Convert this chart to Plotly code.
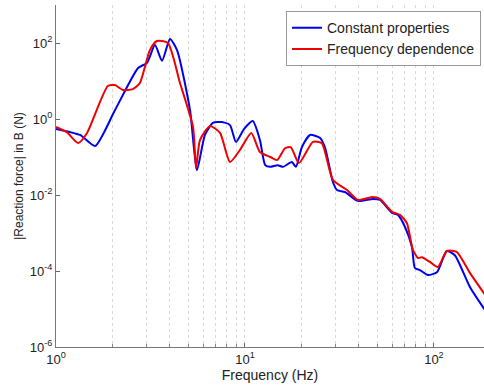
import plotly.graph_objects as go

# Reaction force at point B versus frequency, two material models
freq_const = [1.0, 1.34, 1.61, 2.05, 2.72, 3.03, 3.34, 3.64, 4.01, 4.37, 5.12, 5.57,
              6.14, 6.77, 7.55, 8.33, 8.96, 9.9, 11.0, 12.0, 12.8, 13.6, 14.9, 15.9,
              17.7, 18.6, 20.0, 22.1, 24.9, 26.5, 29.2, 30.7, 33.8, 39.6, 47.6, 51.8,
              60.0, 64.5, 70.3, 76.5, 79.3, 84.3, 93.0, 104, 117, 129, 155, 186]
force_const = [0.55, 0.38, 0.195, 1.7, 22, 30, 88, 34, 127, 65, 1.7, 0.045,
               0.38, 0.79, 0.83, 0.69, 0.25, 0.55, 0.885, 0.28, 0.061, 0.055, 0.061, 0.055,
               0.074, 0.055, 0.18, 0.38, 0.32, 0.18, 0.022, 0.0135, 0.012, 0.0070, 0.0079, 0.0074,
               0.0034, 0.0030, 0.00144, 4.3e-4, 1.2e-4, 1.06e-4, 7.85e-5, 9.4e-5, 3.36e-4, 2.6e-4, 3.8e-5, 9.5e-6]

freq_dep = [1.0, 1.14, 1.31, 1.46, 1.88, 2.05, 2.26, 2.55, 2.78, 3.14, 3.42, 3.91,
            4.53, 5.31, 5.51, 5.78, 6.53, 7.38, 8.33, 9.41, 10.8, 12.0, 13.6, 14.8,
            16.3, 17.5, 19.3, 22.9, 25.5, 29.2, 34.7, 39.6, 47.6, 51.8, 60.0, 66.1,
            71.9, 77.4, 82.3, 86.4, 95.2, 105, 117, 132, 155, 186]
force_dep = [0.62, 0.45, 0.233, 0.43, 7.4, 7.8, 5.8, 6.1, 8.9, 65, 113, 100,
             8.9, 0.62, 0.051, 0.28, 0.65, 0.43, 0.074, 0.153, 0.43, 0.135, 0.1, 0.083,
             0.17, 0.18, 0.069, 0.25, 0.23, 0.025, 0.0135, 0.0074, 0.0089, 0.0079, 0.0036, 0.0030,
             0.00183, 3.6e-4, 2.2e-4, 2.3e-4, 1.73e-4, 1.27e-4, 3.36e-4, 3.2e-4, 8.9e-5, 2.4e-5]

x_ticks = [1, 10, 100]
x_ticktext = ["10<sup>0</sup>", "10<sup>1</sup>", "10<sup>2</sup>"]
x_minor = [2, 3, 4, 5, 6, 7, 8, 9, 20, 30, 40, 50, 60, 70, 80, 90]
y_ticks = [1e-6, 1e-4, 1e-2, 1, 1e2]
y_ticktext = ["10<sup>-6</sup>", "10<sup>-4</sup>", "10<sup>-2</sup>", "10<sup>0</sup>", "10<sup>2</sup>"]

font_family = "Liberation Sans, Arial, sans-serif"
grid_color = "#d9d9d9"

fig = go.Figure()
fig.add_trace(go.Scatter(x=freq_const, y=force_const, mode="lines",
                         name="Constant properties",
                         line=dict(color="#0000f0", width=2, shape="spline", smoothing=0.6)))
fig.add_trace(go.Scatter(x=freq_dep, y=force_dep, mode="lines",
                         name="Frequency dependence",
                         line=dict(color="#f00000", width=2, shape="spline", smoothing=0.6)))

fig.update_layout(
    width=484, height=389,
    margin=dict(l=56, r=0, t=5, b=42),
    paper_bgcolor="white", plot_bgcolor="white",
    font=dict(family=font_family, size=13, color="#222"),
    legend=dict(x=0.993, y=0.982, xanchor="right", yanchor="top",
                bgcolor="white", bordercolor="#999", borderwidth=1,
                font=dict(size=14), tracegroupgap=0, itemwidth=30),
    showlegend=True,
)

fig.update_xaxes(
    type="log", range=[0, 2.265],
    tickmode="array", tickvals=x_ticks, ticktext=x_ticktext,
    tickfont=dict(size=13),
    ticks="inside", ticklen=4, tickcolor="#666",
    showline=True, linecolor="#777", linewidth=1, mirror=False,
    showgrid=True, gridcolor=grid_color, griddash="dot", gridwidth=1,
    minor=dict(tickmode="array", tickvals=x_minor, ticks="inside", ticklen=3,
               tickcolor="#888", showgrid=True, gridcolor=grid_color, griddash="dot"),
    zeroline=False,
    title=dict(text="Frequency (Hz)", font=dict(size=14), standoff=4),
)
fig.update_yaxes(
    type="log", range=[-6, 3],
    tickmode="array", tickvals=y_ticks, ticktext=y_ticktext,
    tickfont=dict(size=13),
    ticks="inside", ticklen=4, tickcolor="#666",
    showline=True, linecolor="#777", linewidth=1, mirror=False,
    showgrid=False, zeroline=False,
    title=dict(text="|Reaction force| in B (N)", font=dict(size=12), standoff=3),
)

fig.write_html("out.html")
